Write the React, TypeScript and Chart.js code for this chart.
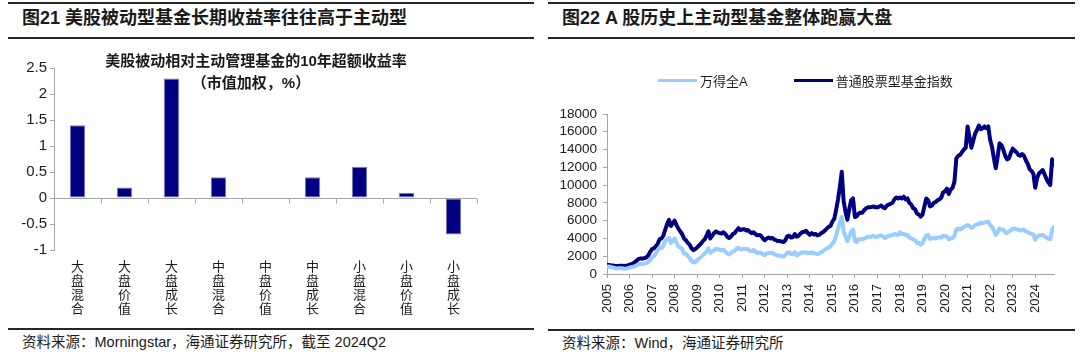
import React, { useEffect, useRef } from "react";
import { Chart, registerables } from "chart.js";

Chart.register(...registerables);

// ---------- Left chart data ----------
const styleCategories = ["大盘混合", "大盘价值", "大盘成长", "中盘混合", "中盘价值", "中盘成长", "小盘混合", "小盘价值", "小盘成长"];
const excessReturn = [1.4, 0.2, 2.3, 0.4, 0, 0.4, 0.6, 0.1, -0.7];
const leftTicks = { min: -1, max: 2.5, step: 0.5 };

// ---------- Right chart data (monthly, from Jan 2005) ----------
const startYear = 2005;
const windAName = "万得全A";
const fundIndexName = "普通股票型基金指数";
const fundIndex = [
  1000, 1020, 980, 950, 920, 900, 910, 930, 920, 900, 930, 960,
  1050, 1120, 1200, 1350, 1550, 1700, 1760, 1720, 1800, 1870, 2100, 2500,
  2800, 2900, 3100, 3400, 3900, 4000, 4300, 5000, 5600, 6100, 5400, 5700,
  6000, 5500, 5100, 4800, 4500, 4000, 3800, 3500, 3300, 2900, 2700, 2800,
  3000, 3200, 3400, 3700, 3900, 4300, 4800, 4000, 4300, 4600, 4800, 4650,
  4600, 4550, 4700, 4500, 4200, 4050, 4200, 4500, 4600, 4900, 5150, 4950,
  5000, 5050, 4900, 4950, 4750, 4600, 4700, 4500, 4350, 4400, 4300, 4000,
  3800, 4000, 4100, 4000, 4050, 3900, 3800, 3700, 3700, 3650, 3600, 3800,
  4250, 4300, 4100, 4150, 4500, 4200, 4300, 4550, 4700, 4750, 4850, 4600,
  4400, 4600, 4450, 4500, 4350, 4400, 4600, 4700, 4900, 5100, 5300, 5400,
  5900, 6200, 7200, 8400, 9800, 11500, 8200, 7000, 6100, 7300, 8300, 8500,
  6400, 6500, 6800, 6900, 6900, 7200, 7400, 7500, 7500, 7550, 7600, 7500,
  7500, 7600, 7700, 7500, 7400, 7700, 7800, 7900, 8000, 8400, 8600, 8500,
  8600, 8500, 8700, 8400, 8500, 8000, 7800, 7400, 7300, 6800, 6700, 6450,
  6700, 7600, 8500, 8300, 7600, 7700, 8000, 8100, 8300, 8400, 8600, 9200,
  9300, 9600, 9000, 9500, 9700, 10400, 13000, 13300, 13400, 13700, 14000, 14200,
  16600, 15400, 14200, 15000, 15800, 16200, 16700, 16300, 16400, 16600, 16400, 16600,
  15100, 14300, 13000, 11900, 13200, 14700, 14500, 14000, 13300, 12900, 13000, 13600,
  14100, 13900, 13700, 13400, 13300, 13500, 13300, 12800, 12400, 11800, 11600, 11300,
  9700, 10800, 11300, 11500, 11700, 11200, 10700, 10300, 10000, 12900, 12300,
];
const windA = [
  820, 840, 780, 740, 680, 620, 640, 660, 640, 600, 620, 650,
  720, 780, 820, 900, 1000, 1100, 1150, 1120, 1180, 1220, 1350, 1550,
  1850, 2000, 2300, 2700, 3000, 2900, 3200, 3700, 3900, 4050, 3500, 3700,
  4000, 3500, 3100, 3000, 2800, 2300, 2300, 2000, 1800, 1450, 1300, 1350,
  1550, 1700, 1900, 2100, 2300, 2500, 2900, 2400, 2500, 2650, 2850, 2800,
  2700, 2650, 2750, 2500, 2300, 2200, 2350, 2550, 2600, 2850, 2950, 2800,
  2750, 2850, 2800, 2800, 2600, 2550, 2700, 2550, 2350, 2400, 2400, 2200,
  2100, 2300, 2350, 2350, 2400, 2250, 2150, 2050, 2050, 2000, 1950, 2150,
  2400, 2450, 2250, 2250, 2450, 2100, 2200, 2350, 2450, 2400, 2450, 2350,
  2350, 2450, 2300, 2300, 2250, 2300, 2450, 2550, 2750, 2850, 3000, 3100,
  3400, 3700, 4300, 5100, 5800, 6400, 4800, 4200, 3700, 4200, 4800, 5000,
  3700, 3600, 3900, 3950, 3900, 4000, 4100, 4200, 4150, 4250, 4300, 4150,
  4200, 4300, 4350, 4200, 4050, 4200, 4300, 4350, 4400, 4500, 4450, 4400,
  4700, 4500, 4500, 4400, 4400, 4100, 4000, 3900, 3800, 3500, 3500, 3300,
  3450, 3950, 4350, 4400, 3950, 4000, 4050, 4000, 4100, 4100, 4100, 4300,
  4300, 4200, 3900, 4000, 4050, 4300, 5000, 5100, 5000, 5100, 5300, 5400,
  5500, 5400, 5200, 5300, 5500, 5600, 5600, 5800, 5700, 5800, 5850, 5900,
  5500, 5300, 4900, 4400, 4700, 5100, 5000, 5000, 4700, 4600, 4800, 4900,
  5100, 5100, 5000, 5000, 4900, 4900, 5000, 4800, 4700, 4600, 4500, 4450,
  3850, 4200, 4300, 4400, 4400, 4200, 4100, 3950, 3900, 5000, 5300,
];
const rightTicks = { min: 0, max: 18000, step: 2000 };

const NAVY = "#000080";
const LIGHT = "#99ccff";
const AXIS = "#a6a6a6";
const TEXT = "#1a1a1a";
const FONT = '"Liberation Sans", "Noto Sans CJK SC", Arial, sans-serif';

Chart.defaults.font.family = FONT;
Chart.defaults.color = TEXT;

const zeroTicksPlugin = {
  id: "zeroTicks",
  afterDatasetsDraw(chart: any) {
    const { ctx, scales } = chart;
    const x = scales.x;
    const y = scales.y;
    const y0 = Math.round(y.getPixelForValue(0)) + 0.5;
    ctx.save();
    ctx.strokeStyle = AXIS;
    ctx.lineWidth = 1;
    for (let i = 0; i <= x.ticks.length; i++) {
      const px = Math.round(x.getPixelForValue(i - 0.5)) + 0.5;
      ctx.beginPath();
      ctx.moveTo(px, y0);
      ctx.lineTo(px, y0 + 5);
      ctx.stroke();
    }
    ctx.restore();
  },
};

const abs = (s: any) => ({ position: "absolute", ...s } as React.CSSProperties);

export default function App() {
  const leftRef = useRef<HTMLCanvasElement>(null);
  const rightRef = useRef<HTMLCanvasElement>(null);

  useEffect(() => {
    const left = new Chart(leftRef.current as HTMLCanvasElement, {
      type: "bar",
      data: {
        labels: styleCategories.map((c) => c.split("")),
        datasets: [
          {
            data: excessReturn,
            backgroundColor: NAVY,
            borderColor: "#8080c8",
            borderWidth: (c: any) => (c.raw === 0 ? 0 : 1),
            borderSkipped: false,
            barPercentage: 0.33,
            categoryPercentage: 1,
          },
        ],
      },
      options: {
        responsive: false,
        animation: false,
        devicePixelRatio: 1,
        layout: { padding: { top: 28, right: 58, left: 0, bottom: 0 } },
        plugins: { legend: { display: false }, tooltip: { enabled: false } },
        scales: {
          x: {
            type: "category",
            offset: true,
            grid: { display: false },
            border: { display: false },
            ticks: {
              autoSkip: false,
              maxRotation: 0,
              minRotation: 0,
              padding: 2,
              color: TEXT,
              font: { size: 13, lineHeight: 1.08 },
            },
            afterFit: (s: any) => {
              s.height = 75;
            },
          },
          y: {
            min: leftTicks.min,
            max: leftTicks.max,
            ticks: {
              stepSize: leftTicks.step,
              autoSkip: false,
              color: TEXT,
              padding: 3,
              font: { size: 15 },
              callback: (v: any) => String(v),
            },
            grid: {
              color: (c: any) => (c.tick && c.tick.value === 0 ? AXIS : "rgba(0,0,0,0)"),
              tickColor: AXIS,
              tickLength: 4,
            },
            border: { color: AXIS },
            afterFit: (s: any) => {
              s.width = 46;
            },
          },
        },
      },
      plugins: [zeroTicksPlugin],
    } as any);

    const toPoints = (arr: number[]) => arr.map((v, i) => ({ x: startYear + i / 12, y: v }));
    const lastX = startYear + (fundIndex.length - 1) / 12;

    const right = new Chart(rightRef.current as HTMLCanvasElement, {
      type: "line",
      data: {
        datasets: [
          {
            label: windAName,
            data: toPoints(windA),
            borderColor: LIGHT,
            backgroundColor: LIGHT,
            borderWidth: 4,
            borderJoinStyle: "round",
            borderCapStyle: "round",
            pointRadius: 0,
            tension: 0,
          },
          {
            label: fundIndexName,
            data: toPoints(fundIndex),
            borderColor: NAVY,
            backgroundColor: NAVY,
            borderWidth: 4,
            borderJoinStyle: "round",
            borderCapStyle: "round",
            pointRadius: 0,
            tension: 0,
          },
        ],
      },
      options: {
        responsive: false,
        animation: false,
        devicePixelRatio: 1,
        layout: { padding: { top: 74, right: 21, left: 0, bottom: 0 } },
        plugins: { legend: { display: false }, tooltip: { enabled: false } },
        scales: {
          x: {
            type: "linear",
            min: startYear,
            max: lastX,
            bounds: "data",
            ticks: {
              stepSize: 1,
              autoSkip: false,
              includeBounds: false,
              maxRotation: 90,
              minRotation: 90,
              padding: 6,
              color: TEXT,
              font: { size: 13 },
              callback: (v: any) => String(v),
            },
            grid: { drawOnChartArea: false, color: AXIS, tickLength: 4 },
            border: { color: AXIS },
            afterFit: (s: any) => {
              s.height = 51;
            },
          },
          y: {
            min: rightTicks.min,
            max: rightTicks.max,
            ticks: {
              stepSize: rightTicks.step,
              autoSkip: false,
              color: TEXT,
              padding: 6,
              font: { size: 13.5 },
              callback: (v: any) => String(v),
            },
            grid: { drawOnChartArea: false, color: AXIS, tickLength: 4 },
            border: { color: AXIS },
            afterFit: (s: any) => {
              s.width = 59;
            },
          },
        },
      },
    } as any);

    return () => {
      left.destroy();
      right.destroy();
    };
  }, []);

  const rule = (x: number, y: number, w: number, h: number) => (
    <div style={abs({ left: x, top: y, width: w, height: h, background: "#262626" })} />
  );

  return (
    <div style={{ position: "fixed", left: 0, top: 0, width: 1080, height: 360, background: "#fff", fontFamily: FONT, color: TEXT, overflow: "hidden" }}>
      {/* Left panel */}
      {rule(8, 2, 526, 2)}
      <div style={abs({ left: 22, top: 7, fontSize: 18, fontWeight: "bold", lineHeight: "22px", whiteSpace: "nowrap" })}>
        图21 美股被动型基金长期收益率往往高于主动型
      </div>
      {rule(8, 37, 526, 1.5)}
      <canvas ref={leftRef} width={527} height={285} style={abs({ left: 8, top: 40 })} />
      <div style={abs({ left: 96, top: 51, width: 320, textAlign: "center", fontSize: 15, fontWeight: "bold", lineHeight: "20px", whiteSpace: "nowrap" })}>
        美股被动相对主动管理基金的10年超额收益率
      </div>
      <div style={abs({ left: 96, top: 73, width: 310, textAlign: "center", fontSize: 15, fontWeight: "bold", lineHeight: "20px", whiteSpace: "nowrap" })}>
        （市值加权，%）
      </div>
      {rule(8, 328, 526, 1.5)}
      <div style={abs({ left: 22, top: 333, fontSize: 14.5, lineHeight: "18px", whiteSpace: "nowrap" })}>
        资料来源：Morningstar，海通证券研究所，截至 2024Q2
      </div>

      {/* Right panel */}
      {rule(548, 2, 527, 2)}
      <div style={abs({ left: 562, top: 7, fontSize: 18, fontWeight: "bold", lineHeight: "22px", whiteSpace: "nowrap" })}>
        图22 A 股历史上主动型基金整体跑赢大盘
      </div>
      {rule(548, 37, 527, 1.5)}
      <canvas ref={rightRef} width={527} height={285} style={abs({ left: 548, top: 40 })} />
      <div style={abs({ left: 658, top: 71, height: 18, display: "flex", alignItems: "center", fontSize: 13, whiteSpace: "nowrap" })}>
        <span style={{ display: "inline-block", width: 39, height: 3, background: LIGHT, marginRight: 3 }} />
        <span>{windAName}</span>
        <span style={{ display: "inline-block", width: 39, height: 3, background: NAVY, marginLeft: 46, marginRight: 3 }} />
        <span>{fundIndexName}</span>
      </div>
      {rule(548, 329, 527, 1.5)}
      <div style={abs({ left: 562, top: 334, fontSize: 14.5, lineHeight: "18px", whiteSpace: "nowrap" })}>
        资料来源：Wind，海通证券研究所
      </div>
    </div>
  );
}
